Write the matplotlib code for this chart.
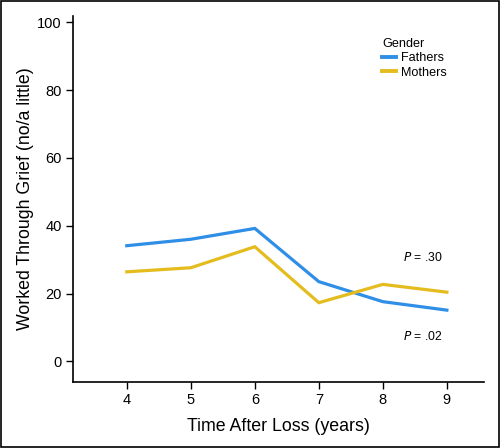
import matplotlib
matplotlib.use('Agg')
import matplotlib.pyplot as plt
from matplotlib.patches import Rectangle

plt.rcParams['font.family'] = 'Liberation Sans'

years = [4, 5, 6, 7, 8, 9]
fathers = [34.1, 36.0, 39.2, 23.5, 17.6, 15.1]
mothers = [26.4, 27.6, 33.8, 17.3, 22.7, 20.4]
yticks = [0, 20, 40, 60, 80, 100]

BLUE = '#2F8FE6'
GOLD = '#E4BC1E'

fig = plt.figure(figsize=(5.0, 4.48), dpi=100)
ax = fig.add_axes([0.146, 0.148, 0.822, 0.816])

ax.plot(years, fathers, color=BLUE, linewidth=2.3, label='Fathers', solid_joinstyle='miter')
ax.plot(years, mothers, color=GOLD, linewidth=2.3, label='Mothers', solid_joinstyle='miter')

ax.set_xlim(3.16, 9.58)
ax.set_ylim(-6.0, 101.8)
ax.set_xticks(years)
ax.set_yticks(yticks)
for s in ['top', 'right']:
    ax.spines[s].set_visible(False)
for s in ['left', 'bottom']:
    ax.spines[s].set_linewidth(1.2)
ax.tick_params(axis='both', direction='out', length=5, width=1.0, labelsize=10.5, pad=3)

ax.set_xlabel('Time After Loss (years)', fontsize=12.8, labelpad=8)
ax.set_ylabel('Worked Through Grief (no/a little)', fontsize=12.8, labelpad=2)

leg = ax.legend(title='Gender', loc='upper left', bbox_to_anchor=(0.74, 0.955),
                frameon=False, fontsize=9.1, title_fontsize=9.1,
                handlelength=1.1, handletextpad=0.35, labelspacing=0.2,
                borderaxespad=0)
leg._legend_box.align = 'left'
for h in leg.get_lines():
    h.set_linewidth(2.8)

ax.text(8.32, 30.5, r'$\mathit{P}$ = .30', fontsize=8.7, ha='left', va='center')
ax.text(8.32, 7.2, r'$\mathit{P}$ = .02', fontsize=8.7, ha='left', va='center')

fig.patches.append(Rectangle((0.002, 0.002), 0.996, 0.996, transform=fig.transFigure,
                             fill=False, edgecolor='black', linewidth=1.2))

fig.savefig('out.png', dpi=100)
